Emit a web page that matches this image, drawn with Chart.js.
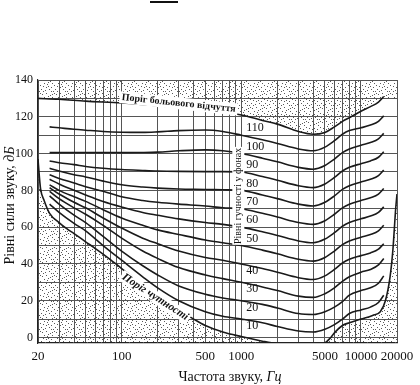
<!DOCTYPE html>
<html><head><meta charset="utf-8">
<script src="https://cdn.jsdelivr.net/npm/chart.js@4.4.1/dist/chart.umd.min.js"></script>
<style>
html,body{margin:0;padding:0;background:#fff;}
#wrap{position:relative;width:420px;height:385px;overflow:hidden;}
#bar{position:absolute;left:150px;top:1px;width:28px;height:2px;background:#111;}
</style></head><body>
<div id="wrap"><canvas id="c" width="420" height="385"></canvas><div id="bar"></div></div>
<script>
// ---- data ----
const freqs = [25,30,40,50,70,100,150,200,300,500,700,1000,1500,2000,3000,4000,5000,6000,7000,8000,10000,12000,14000,15500];
const phon110 = [114.5,114,113.2,112.7,112,111.6,111.5,111.8,112.5,112.8,112,110,107.5,105.5,102.5,101.5,103.5,107,110.5,112.5,114,115.5,117.5,120.5];
const phon100 = [100.5,100.5,100.5,100.5,100.5,100.5,100.6,100.8,101.5,102,101.5,100,97.5,95.5,92.5,91.5,93.5,97,100.5,102.5,104.5,106,108,111];
const phon90  = [96,95,94,93,92,91.3,90.8,90.5,90.3,90.2,90.2,90,87.5,85.5,82.5,81.5,83.5,87,90.5,92.5,94.5,96,98,101];
const phon80  = [92,90.5,88.5,87.3,85,83,81.8,81.2,80.7,80.5,80.3,80,77.5,75.5,72.5,71.5,73.5,77,80.5,82.5,84.5,86,88,91];
const phon70  = [88.5,86.5,84,82,79.5,76.5,74.5,73.5,72.5,71.5,70.5,70,67.5,65.5,62.5,61.5,63.5,67,70.5,72.5,74.5,76,78,81];
const phon60  = [86,83.5,80,77.5,74,71,68,66.5,64.5,62.5,61.5,60,57.5,55.5,52.5,51.5,53.5,57,60.5,62.5,64.5,66,68,71];
const phon50  = [83,80,76.5,74,69.5,65,61,58.5,56,53,51.5,50,47.5,45.5,42.5,41.5,43.5,47,50.5,52.5,54.5,56,58,61];
const phon40  = [81.5,78,73.5,70.5,65,59.5,54,51,47,43.5,42,40,37.5,35.5,32.5,31.5,33.5,37,40.5,42.5,44.5,46,48,51];
const phon30  = [79.5,75.5,70.5,67,61,54,47,43,38,34,32,30,27.5,25.5,22.5,21.8,23.8,27,30.5,33,35.5,37,39.5,43];
const phon20  = [77,72.5,66.5,62.5,55,47,39,34,28,23.5,21.5,20,18,16,13,12.5,14,16.5,19.5,23,25.5,27,29.5,33.5];
const phon10  = [72.5,68,62,58,50,42,33,27,20,14,11.5,10,8,6,3.5,3,4.5,7,10,13,15,16.5,19,23];
const phonLevels = [110,100,90,80,70,60,50,40,30,20,10];

const thresholdFreqs  = [20,20.5,21,22.5,25,30,35,40,50,60,80,100,150,200,300,400,500,700,1000,1500,2000,3000,4000,5000,5500,6000,7000,8000,10000,12500,14500,16000,17500,18500,19500,20000];
const thresholdValues = [97,88,81,74.5,67.5,62.5,59,56.5,52,48.5,42.5,37.5,29,23,15,10,6.5,3,0.5,-2,-3.5,-4.5,-4.5,-3,-0.5,2.5,6.5,8,10,12,14,20,33,48,70,78];

const painFreqs  = [20,30,50,100,200,500,1000,1500,2000,3000,4000,5000,6000,7000,8000,10000,12000,14000,15500];
const painValues = [130,129.5,128.5,127.5,126,123.5,121,118,116,112,110.5,111.5,114.5,117.5,119.5,123,125.5,128,131];

const bandFreqs  = [15500,20000];
const bandValues = [130,130];

const xGridValues  = [20,30,40,50,60,70,80,90,100,200,300,400,500,600,700,800,900,1000,2000,3000,4000,5000,6000,7000,8000,9000,10000,20000];
const xLabelValues = [20,100,500,1000,5000,10000,20000];
const yGridValues  = [0,10,20,30,40,50,60,70,80,90,100,110,120,130,140];

// ---- style ----
const SERIF = '"Liberation Serif","DejaVu Serif",serif';
const stippleDots = [[1,2],[5,0],[9,3],[12,1],[3,6],[7,5],[11,7],[0,10],[4,9],[8,11],[12,9],[2,13],[6,12],[10,13],[6,2],[10,10],[1,7],[13,5],[4,3],[9,7]];
function makeStipple(col){
  const c=document.createElement('canvas'); c.width=14; c.height=14;
  const g=c.getContext('2d'); g.fillStyle=col;
  stippleDots.forEach(([a,b])=>g.fillRect(a,b,1,1));
  return g.createPattern(c,'repeat');
}
const stipple = makeStipple('#5a5a5a');

function pts(xs, ys){ return xs.map((f,i)=>({x:f,y:ys[i]})); }
const cs = {borderColor:'#1a1a1a', borderWidth:1.6, pointRadius:0, cubicInterpolationMode:'monotone', fill:false};

const phonSeries = [phon110,phon100,phon90,phon80,phon70,phon60,phon50,phon40,phon30,phon20,phon10];
const datasets = [
  Object.assign({}, cs, {data:pts(painFreqs,painValues)}),
  Object.assign({}, cs, {data:pts(thresholdFreqs,thresholdValues)})
];
phonSeries.forEach(arr=>datasets.push(Object.assign({}, cs, {data:pts(freqs,arr)})));

// shaded regions: paths computed from the data through the chart's own scales
const shadeRegions = [
  {fx:painFreqs, vy:painValues, dir:'up'},
  {fx:bandFreqs, vy:bandValues, dir:'up'},
  {fx:thresholdFreqs, vy:thresholdValues, dir:'down'}
];
const stippleFill = {
  id:'stippleFill',
  beforeDatasetsDraw(chart){
    const ctx=chart.ctx, a=chart.chartArea, xs=chart.scales.x, ys=chart.scales.y;
    ctx.save();
    ctx.beginPath(); ctx.rect(a.left,a.top,a.right-a.left,a.bottom-a.top); ctx.clip();
    shadeRegions.forEach(r=>{
      const P = r.fx.map((f,i)=>({x:xs.getPixelForValue(f), y:ys.getPixelForValue(r.vy[i]), skip:false}));
      let ok=false;
      try{ if(P.length>2 && Chart.helpers && Chart.helpers.splineCurveMonotone){ Chart.helpers.splineCurveMonotone(P,'x'); ok=true; } }catch(e){ ok=false; }
      const edge = r.dir==='up' ? a.top : a.bottom;
      ctx.beginPath(); ctx.moveTo(P[0].x,P[0].y);
      for(let k=1;k<P.length;k++){
        const pr=P[k-1], c=P[k];
        if(ok && isFinite(pr.cp2x) && isFinite(pr.cp2y) && isFinite(c.cp1x) && isFinite(c.cp1y)) ctx.bezierCurveTo(pr.cp2x,pr.cp2y,c.cp1x,c.cp1y,c.x,c.y);
        else ctx.lineTo(c.x,c.y);
      }
      ctx.lineTo(P[P.length-1].x, edge); ctx.lineTo(P[0].x, edge); ctx.closePath();
      ctx.fillStyle=stipple; ctx.fill();
    });
    ctx.restore();
  }
};

function drawRotated(ctx, text, cx, cy, ang, font, bg){
  ctx.save();
  ctx.translate(cx,cy); ctx.rotate(ang);
  ctx.font=font; ctx.textAlign='center'; ctx.textBaseline='middle';
  const w=ctx.measureText(text).width;
  if(bg){ ctx.fillStyle='#fff'; ctx.fillRect(-w/2-2,-6,w+4,12); }
  ctx.fillStyle='#111'; ctx.fillText(text,0,0);
  ctx.restore();
}
function drawMixed(ctx, parts, cx, cy, ang){
  ctx.save(); ctx.translate(cx,cy); ctx.rotate(ang);
  ctx.textBaseline='middle'; ctx.textAlign='left'; ctx.fillStyle='#111';
  let total=0; parts.forEach(p=>{ctx.font=p[1]; total+=ctx.measureText(p[0]).width;});
  let x=-total/2;
  parts.forEach(p=>{ctx.font=p[1]; ctx.fillText(p[0],x,0); x+=ctx.measureText(p[0]).width;});
  ctx.restore();
}

const annot = {
  id:'annot',
  afterDatasetsDraw(chart){
    const ctx=chart.ctx, xs=chart.scales.x, ys=chart.scales.y;
    ctx.save();
    ctx.font='12px '+SERIF; ctx.fillStyle='#111'; ctx.textAlign='left'; ctx.textBaseline='middle';
    const x1000 = xs.getPixelForValue(1000);
    phonLevels.forEach(p=>{
      const yy = ys.getPixelForValue(p) + (p>=50 ? -7 : 7);
      ctx.fillText(String(p), x1000+5, yy);
    });
    const vx = x1000-3, vy = ys.getPixelForValue(77);
    ctx.fillStyle='#fff'; ctx.fillRect(vx-6, vy-49, 12, 98);
    drawRotated(ctx,'Рівні гучності у фонах', vx, vy, -Math.PI/2, '10px '+SERIF, false);
    drawRotated(ctx,'Поріг больового відчуття', xs.getPixelForValue(300), ys.getPixelForValue(127.3), 6*Math.PI/180, 'bold 10px '+SERIF, true);
    drawRotated(ctx,'Поріг чутності', xs.getPixelForValue(191), ys.getPixelForValue(22), 33*Math.PI/180, 'italic bold 11px '+SERIF, true);
    ctx.restore();
  },
  afterDraw(chart){
    const ctx=chart.ctx, a=chart.chartArea;
    drawMixed(ctx, [['Рівні сили звуку, ', '14px '+SERIF], ['дБ', 'italic 14px '+SERIF]], 10, (a.top+a.bottom)/2-6, -Math.PI/2);
    drawMixed(ctx, [['Частота звуку, ', '14px '+SERIF], ['Гц', 'italic 14px '+SERIF]], 230, 377, 0);
  }
};

new Chart(document.getElementById('c'), {
  type:'line',
  data:{datasets},
  options:{
    responsive:false, animation:false, devicePixelRatio:1,
    layout:{padding:{top:80,right:23,left:0,bottom:0}},
    plugins:{legend:{display:false}, tooltip:{enabled:false}},
    scales:{
      x:{type:'logarithmic', min:20, max:20000,
        afterBuildTicks(s){ s.ticks = xGridValues.map(v=>({value:v})); },
        afterFit(s){ s.height=42; },
        grid:{color:'#555', lineWidth:1, drawTicks:false},
        border:{color:'#222', width:1.2},
        ticks:{autoSkip:false, maxRotation:0, padding:6, color:'#111', font:{family:SERIF, size:13},
          callback:(v)=> xLabelValues.includes(v) ? String(v) : ''}
      },
      y:{type:'linear', min:-3, max:140,
        afterBuildTicks(s){ s.ticks = yGridValues.map(v=>({value:v})); },
        afterFit(s){ s.width=38; },
        grid:{color:'#555', lineWidth:1, drawTicks:false},
        border:{color:'#222', width:1.2},
        ticks:{autoSkip:false, padding:5, color:'#111', font:{family:SERIF, size:12},
          callback:(v)=> (v%20===0) ? String(v) : ''}
      }
    }
  },
  plugins:[stippleFill, annot]
});
</script>
</body></html>
